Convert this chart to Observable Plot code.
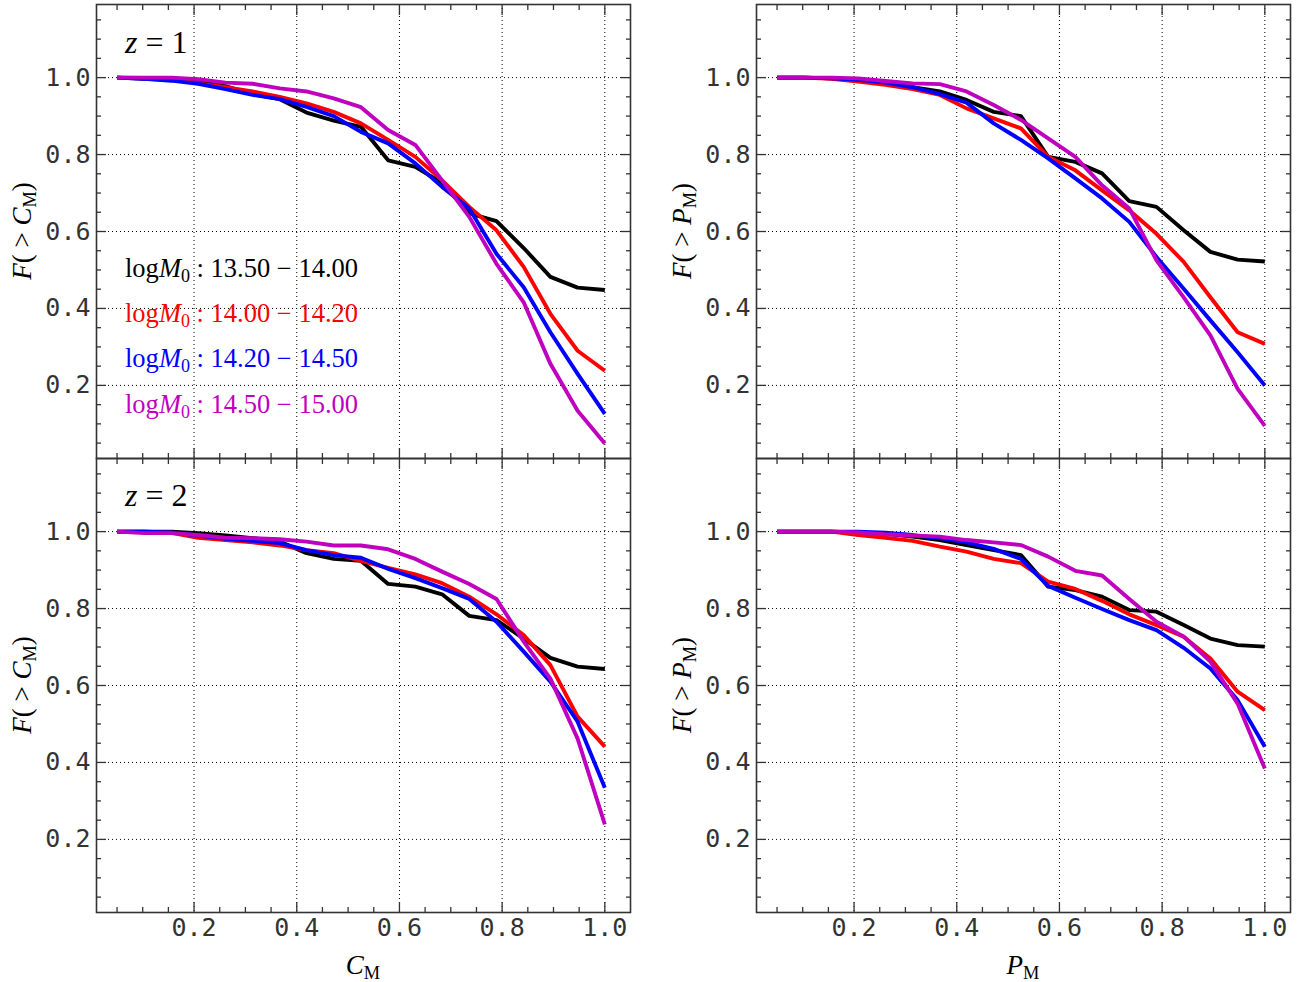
<!DOCTYPE html>
<html><head><meta charset="utf-8">
<script src="https://cdn.jsdelivr.net/npm/d3@7"></script>
<script src="https://cdn.jsdelivr.net/npm/@observablehq/plot@0.6"></script>
<style>
body{margin:0;background:#fff;}
#wrap{position:relative;width:1307px;height:982px;overflow:hidden;background:#fff;}
.p{position:absolute;}
.m{position:absolute;font-family:"Liberation Serif",serif;white-space:nowrap;line-height:1;color:#000;}
.m i{font-style:italic;}
.sub{font-size:68%;position:relative;top:0.28em;}
</style></head><body><div id="wrap"></div>
<script>
// ---- data ----
const xs = [0.050,0.103,0.156,0.208,0.261,0.314,0.367,0.419,0.472,0.525,0.578,0.631,0.683,0.736,0.789,0.842,0.894,0.947,1.000];
const groups = ["13.50 − 14.00","14.00 − 14.20","14.20 − 14.50","14.50 − 15.00"];
const colors = ["#000000","#ff0000","#0000ff","#bf00bf"];
const xMajor = [0.2,0.4,0.6,0.8,1.0];
const xMinor = [0.05,0.10,0.15,0.25,0.30,0.35,0.45,0.50,0.55,0.65,0.70,0.75,0.85,0.90,0.95];
const yMajor = [0.2,0.4,0.6,0.8,1.0];
const yMinor = [0.05,0.10,0.15,0.25,0.30,0.35,0.45,0.50,0.55,0.65,0.70,0.75,0.85,0.90,0.95,1.05,1.10,1.15];

// C_M, z = 1
const c1_k = [1.000,0.997,0.994,0.992,0.978,0.957,0.944,0.909,0.888,0.872,0.785,0.768,0.726,0.647,0.627,0.557,0.482,0.454,0.448];
const c1_r = [1.000,0.999,0.996,0.985,0.975,0.964,0.950,0.933,0.911,0.881,0.838,0.794,0.733,0.664,0.603,0.508,0.386,0.290,0.238];
const c1_b = [1.000,0.997,0.992,0.984,0.970,0.955,0.944,0.924,0.900,0.859,0.829,0.777,0.716,0.660,0.542,0.455,0.338,0.230,0.126];
const c1_m = [1.000,1.000,1.000,0.996,0.987,0.984,0.972,0.964,0.946,0.923,0.864,0.825,0.733,0.638,0.516,0.416,0.256,0.134,0.049];
// P_M, z = 1
const p1_k = [1.000,1.000,0.998,0.994,0.985,0.975,0.964,0.942,0.911,0.900,0.794,0.781,0.751,0.679,0.664,0.603,0.547,0.527,0.522];
const p1_r = [1.000,1.000,0.997,0.990,0.981,0.970,0.955,0.920,0.894,0.868,0.794,0.759,0.707,0.655,0.594,0.521,0.429,0.338,0.308];
const p1_b = [1.000,1.000,0.998,0.994,0.987,0.975,0.957,0.935,0.881,0.838,0.790,0.738,0.686,0.625,0.534,0.451,0.369,0.286,0.200];
const p1_m = [1.000,1.000,1.000,0.998,0.991,0.985,0.983,0.964,0.929,0.890,0.842,0.794,0.720,0.660,0.525,0.429,0.330,0.191,0.095];
// C_M, z = 2
const c2_k = [1.000,1.000,1.000,0.996,0.990,0.983,0.974,0.944,0.929,0.924,0.864,0.857,0.837,0.781,0.770,0.722,0.672,0.649,0.643];
const c2_r = [1.000,1.000,0.997,0.984,0.978,0.972,0.964,0.952,0.944,0.924,0.906,0.889,0.866,0.831,0.785,0.731,0.653,0.519,0.441];
const c2_b = [1.000,1.000,0.998,0.990,0.981,0.976,0.970,0.952,0.939,0.932,0.903,0.879,0.853,0.825,0.766,0.688,0.610,0.506,0.334];
const c2_m = [1.000,0.996,0.996,0.991,0.984,0.983,0.980,0.974,0.964,0.964,0.954,0.929,0.896,0.864,0.825,0.714,0.618,0.462,0.239];
// P_M, z = 2
const p2_k = [1.000,1.000,1.000,0.998,0.994,0.987,0.978,0.965,0.952,0.939,0.857,0.848,0.831,0.796,0.792,0.757,0.722,0.705,0.701];
const p2_r = [1.000,1.000,1.000,0.991,0.984,0.976,0.961,0.948,0.929,0.918,0.870,0.851,0.820,0.785,0.757,0.727,0.670,0.584,0.536];
const p2_b = [1.000,1.000,1.000,1.000,0.997,0.991,0.983,0.972,0.955,0.929,0.859,0.828,0.799,0.770,0.744,0.698,0.644,0.562,0.441];
const p2_m = [1.000,1.000,1.000,0.998,0.993,0.990,0.987,0.978,0.972,0.965,0.935,0.898,0.886,0.825,0.766,0.727,0.662,0.553,0.384];

// ---- drawing ----
const wrap = document.getElementById("wrap");
const TK = {stroke: "#333", strokeWidth: 1.3, tickFormat: () => "", label: null};
const LBL = {tickSize: 0, tickPadding: 6, fontSize: 25, fontFamily: "DejaVu Sans Mono", fill: "#333", label: null, tickFormat: d3.format(".1f")};

function panel(series, {left, top, width, height, mL, mR, mT, mB, xLabels}) {
  const rows = [];
  series.forEach((vals, si) => vals.forEach((v, i) => rows.push({x: xs[i], y: v, s: groups[si]})));
  const marks = [
    Plot.gridX(xMajor, {stroke: "#000", strokeOpacity: 1, strokeWidth: 1, strokeDasharray: "1,3"}),
    Plot.gridY(yMajor, {stroke: "#000", strokeOpacity: 1, strokeWidth: 1, strokeDasharray: "1,3"}),
    Plot.line(rows, {x: "x", y: "y", z: "s", stroke: "s", strokeWidth: 3.9, strokeLinejoin: "round", strokeLinecap: "butt"}),
    Plot.axisX(xMajor, {anchor: "bottom", tickSize: 10, dy: -10, ...TK}),
    Plot.axisX(xMinor, {anchor: "bottom", tickSize: 5, dy: -5, ...TK}),
    Plot.axisX(xMajor, {anchor: "top", tickSize: 10, dy: 10, ...TK}),
    Plot.axisX(xMinor, {anchor: "top", tickSize: 5, dy: 5, ...TK}),
    Plot.axisY(yMajor, {anchor: "left", tickSize: 10, dx: 10, ...TK}),
    Plot.axisY(yMinor, {anchor: "left", tickSize: 5, dx: 5, ...TK}),
    Plot.axisY(yMajor, {anchor: "right", tickSize: 10, dx: -10, ...TK}),
    Plot.axisY(yMinor, {anchor: "right", tickSize: 5, dx: -5, ...TK}),
    Plot.axisY(yMajor, {anchor: "left", ...LBL}),
    Plot.frame({stroke: "#333", strokeWidth: 1.6})
  ];
  if (xLabels) marks.push(Plot.axisX(xMajor, {anchor: "bottom", ...LBL}));
  const svg = Plot.plot({
    width, height, marginLeft: mL, marginRight: mR, marginTop: mT, marginBottom: mB,
    x: {domain: [0.01, 1.05]},
    y: {domain: [0.01, 1.19]},
    color: {domain: groups, range: colors},
    style: {overflow: "visible", background: "transparent", fontFamily: "DejaVu Sans Mono", fontSize: "25px"},
    marks
  });
  svg.classList.add("p");
  svg.style.left = left + "px";
  svg.style.top = top + "px";
  wrap.appendChild(svg);
}

const L = {left: 0, width: 653, mL: 96, mR: 23};
const R = {left: 653, width: 654, mL: 103, mR: 17};
const T = {top: 0, height: 458, mT: 4, mB: 0, xLabels: false};
const B = {top: 458, height: 524, mT: 0, mB: 70, xLabels: true};
panel([c1_k, c1_r, c1_b, c1_m], {...L, ...T});
panel([p1_k, p1_r, p1_b, p1_m], {...R, ...T});
panel([c2_k, c2_r, c2_b, c2_m], {...L, ...B});
panel([p2_k, p2_r, p2_b, p2_m], {...R, ...B});

// ---- math text (labels, annotations, legend) ----
const SP = "&#8197;"; // four-per-em space
function addText(html, x, y, {size = 26, color = "#000", anchor = "center"} = {}) {
  const d = document.createElement("div");
  d.className = "m";
  d.innerHTML = html;
  d.style.fontSize = size + "px";
  d.style.color = color;
  d.style.left = x + "px";
  d.style.top = y + "px";
  d.style.transform = `translate(${anchor === "center" ? "-50%" : "0"},-50%)`;
  wrap.appendChild(d);
  return d;
}
const yl = (v) => `<i>F</i>(${SP}&gt;${SP}<i>${v}</i><span class="sub">M</span>)`;
function addYLabel(v, cx, cy) {
  const d = document.createElement("div");
  d.className = "m";
  d.innerHTML = yl(v);
  d.style.fontSize = "27px";
  d.style.left = cx + "px";
  d.style.top = cy + "px";
  d.style.transform = "translate(-50%,-50%) rotate(-90deg)";
  wrap.appendChild(d);
}
addYLabel("C", 22, 231);
addYLabel("C", 22, 685);
addYLabel("P", 682, 231);
addYLabel("P", 682, 685);
addText(`<i>C</i><span class="sub">M</span>`, 363, 965, {size: 27});
addText(`<i>P</i><span class="sub">M</span>`, 1023, 965, {size: 27});
addText(`<i>z</i>${SP}=${SP}1`, 125, 42, {size: 32, anchor: "left"});
addText(`<i>z</i>${SP}=${SP}2`, 125, 495, {size: 32, anchor: "left"});
const legendY = [268, 313, 358, 404];
groups.forEach((g, i) => {
  addText(`log<i>M</i><span class="sub">0</span>${SP}:${SP}${g.replace(" − ", SP + "−" + SP)}`, 125, legendY[i], {size: 26.5, color: colors[i], anchor: "left"});
});
</script></body></html>
